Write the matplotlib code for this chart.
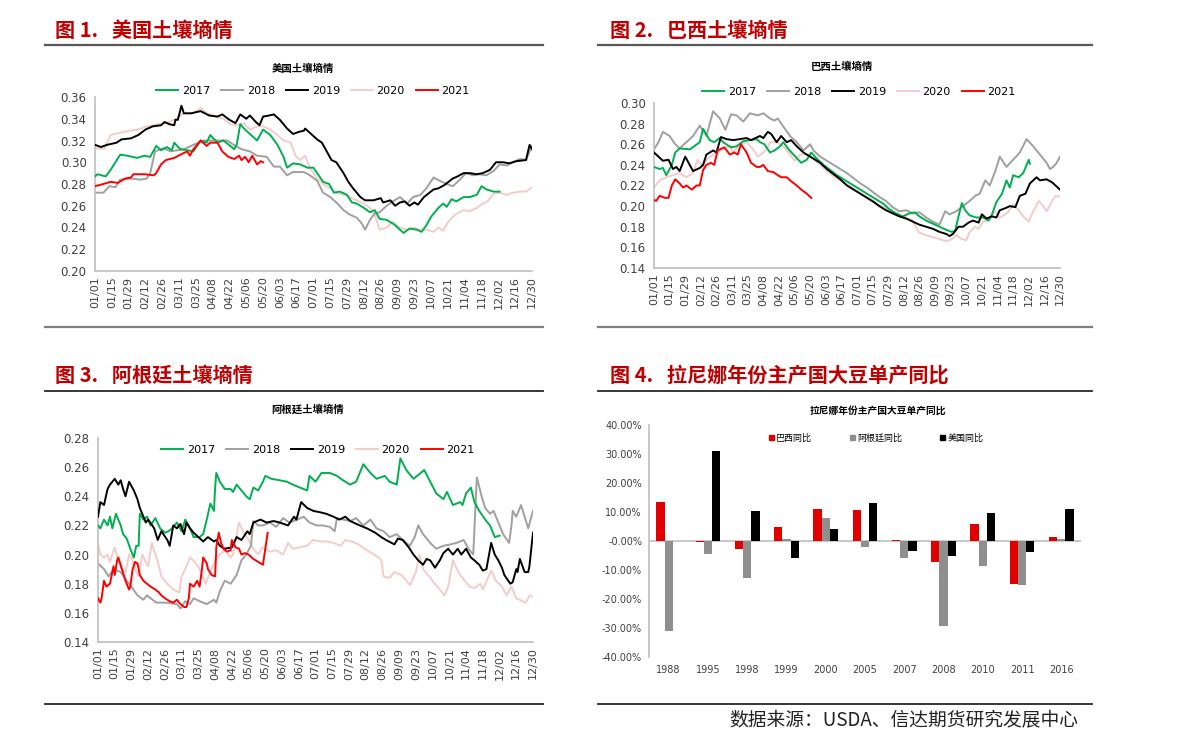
import numpy as np
import matplotlib
matplotlib.use("Agg")
import matplotlib.pyplot as plt
from matplotlib.lines import Line2D
from matplotlib.patches import Patch

plt.rcParams['font.family'] = ['Noto Sans CJK SC', 'DejaVu Sans']
plt.rcParams['axes.unicode_minus'] = False

W, H = 1191, 751

# ---- x axis labels (day of year, every 14 days) ----
date_labels = ["01/01", "01/15", "01/29", "02/12", "02/26", "03/11", "03/25", "04/08", "04/22",
               "05/06", "05/20", "06/03", "06/17", "07/01", "07/15", "07/29", "08/12", "08/26",
               "09/09", "09/23", "10/07", "10/21", "11/04", "11/18", "12/02", "12/16", "12/30"]
years = ["2017", "2018", "2019", "2020", "2021"]

# ---- 图1 美国 ----
us_2017_d = [0, 2, 9, 13, 17, 21, 27, 35, 41, 46, 51, 55, 60, 64, 66, 71, 77, 82, 88, 93, 96, 102, 107, 116, 118,
             121, 125, 131, 135, 140, 146, 152, 157, 160, 165, 171, 177, 182, 185, 190, 195, 199, 204, 210, 214,
             218, 224, 229, 233, 237, 243, 249, 254, 257, 262, 268, 272, 276, 280, 286, 290, 293, 297, 301, 307,
             312, 318, 322, 326, 332, 337]
us_2017_v = [0.287, 0.289, 0.287, 0.293, 0.300, 0.307, 0.306, 0.304, 0.306, 0.305, 0.315, 0.311, 0.314, 0.311,
             0.318, 0.312, 0.311, 0.310, 0.320, 0.318, 0.325, 0.318, 0.320, 0.312, 0.316, 0.335, 0.330, 0.324,
             0.320, 0.330, 0.325, 0.316, 0.305, 0.295, 0.299, 0.298, 0.295, 0.295, 0.290, 0.282, 0.280, 0.272,
             0.273, 0.270, 0.263, 0.262, 0.258, 0.254, 0.256, 0.248, 0.247, 0.243, 0.238, 0.235, 0.239, 0.238,
             0.236, 0.242, 0.250, 0.258, 0.262, 0.259, 0.266, 0.264, 0.268, 0.268, 0.270, 0.278, 0.275, 0.273, 0.273]
us_2018_d = [0, 7, 12, 17, 21, 30, 38, 43, 46, 50, 57, 63, 74, 82, 91, 102, 110, 117, 122, 129, 135, 143, 149, 154,
             160, 165, 174, 179, 185, 190, 196, 202, 207, 212, 218, 222, 225, 229, 233, 237, 243, 248, 254, 260,
             265, 271, 276, 282, 287, 293, 298, 304, 309, 315, 320, 326, 332, 337, 343, 348, 354, 359, 364]
us_2018_v = [0.272, 0.272, 0.278, 0.277, 0.284, 0.285, 0.284, 0.285, 0.290, 0.310, 0.313, 0.310, 0.312, 0.316,
             0.320, 0.320, 0.320, 0.315, 0.312, 0.310, 0.306, 0.305, 0.296, 0.296, 0.288, 0.291, 0.291, 0.288,
             0.283, 0.272, 0.268, 0.262, 0.256, 0.252, 0.249, 0.244, 0.238, 0.247, 0.253, 0.254, 0.260, 0.264,
             0.268, 0.262, 0.268, 0.270, 0.276, 0.286, 0.283, 0.280, 0.278, 0.284, 0.290, 0.288, 0.289, 0.288,
             0.292, 0.298, 0.297, 0.300, 0.303, 0.302, 0.315]
us_2019_d = [0, 5, 10, 18, 22, 30, 36, 42, 48, 55, 58, 62, 66, 67, 69, 72, 74, 80, 88, 95, 102, 106, 112, 117, 121,
             126, 129, 134, 137, 140, 145, 149, 154, 160, 165, 170, 174, 175, 180, 185, 189, 193, 197, 201, 207,
             211, 215, 221, 225, 232, 238, 240, 246, 250, 254, 258, 262, 266, 269, 274, 282, 286, 291, 298, 302,
             307, 312, 318, 323, 329, 334, 340, 345, 351, 359, 362, 364]
us_2019_v = [0.316, 0.314, 0.316, 0.318, 0.321, 0.322, 0.325, 0.330, 0.333, 0.334, 0.337, 0.335, 0.334, 0.339,
             0.339, 0.352, 0.345, 0.345, 0.347, 0.343, 0.342, 0.344, 0.339, 0.336, 0.344, 0.340, 0.343, 0.337,
             0.334, 0.342, 0.343, 0.344, 0.339, 0.331, 0.326, 0.328, 0.329, 0.331, 0.326, 0.321, 0.318, 0.310,
             0.302, 0.300, 0.290, 0.282, 0.276, 0.268, 0.265, 0.265, 0.267, 0.263, 0.265, 0.260, 0.263, 0.264,
             0.260, 0.263, 0.261, 0.268, 0.275, 0.276, 0.279, 0.285, 0.287, 0.290, 0.290, 0.289, 0.290, 0.293,
             0.300, 0.300, 0.299, 0.301, 0.302, 0.316, 0.312]
us_2020_d = [0, 7.5, 13, 24, 35, 43.5, 52, 60, 67, 74, 82, 88, 93, 99, 107, 113, 118, 124, 129, 135, 140, 146, 152,
             157, 163, 167, 171, 175, 179, 185, 190, 196, 201, 207, 212, 218, 224, 229, 233, 237, 243, 248, 254,
             260, 265, 271, 276, 282, 286, 290, 294, 300, 307, 312, 318, 323, 327, 332, 337, 343, 348, 354, 359, 364]
us_2020_v = [0.313, 0.312, 0.325, 0.328, 0.330, 0.333, 0.335, 0.336, 0.340, 0.345, 0.345, 0.350, 0.345, 0.343,
             0.340, 0.335, 0.334, 0.336, 0.330, 0.333, 0.333, 0.330, 0.325, 0.320, 0.318, 0.306, 0.302, 0.306,
             0.295, 0.285, 0.280, 0.276, 0.272, 0.270, 0.268, 0.265, 0.262, 0.258, 0.252, 0.238, 0.240, 0.245,
             0.240, 0.238, 0.240, 0.238, 0.238, 0.236, 0.240, 0.237, 0.245, 0.252, 0.256, 0.255, 0.258, 0.262,
             0.264, 0.271, 0.272, 0.270, 0.272, 0.273, 0.273, 0.277]
us_2021_d = [0, 7, 13, 19, 25, 30, 32, 41, 49, 51, 55, 59, 66, 73, 77, 79, 82, 85, 88, 93, 96, 102, 106, 111, 116,
             120, 122, 125, 128, 131, 135, 138, 140]
us_2021_v = [0.278, 0.280, 0.282, 0.281, 0.285, 0.286, 0.289, 0.289, 0.288, 0.290, 0.298, 0.302, 0.304, 0.308,
             0.310, 0.306, 0.312, 0.316, 0.320, 0.315, 0.318, 0.318, 0.310, 0.305, 0.303, 0.306, 0.302, 0.305,
             0.300, 0.306, 0.298, 0.301, 0.300]

# ---- 图2 巴西 ----
br_2017_d = [0, 5, 8, 11, 16, 19, 23, 32, 36, 41, 44, 50, 54, 59, 62, 69, 74, 80, 86, 92, 95, 99, 104, 108, 113,
             116, 120, 125, 132, 137, 141, 146, 152, 158, 164, 170, 176, 182, 188, 194, 200, 206, 211, 217, 223,
             229, 234, 238, 244, 250, 256, 262, 267, 270, 273, 276, 279, 283, 289, 295, 300, 303, 307, 312, 316,
             319, 322, 327, 331, 336, 337]
br_2017_v = [0.238, 0.236, 0.237, 0.230, 0.240, 0.252, 0.256, 0.255, 0.258, 0.262, 0.275, 0.264, 0.262, 0.266,
             0.262, 0.257, 0.258, 0.263, 0.264, 0.265, 0.262, 0.260, 0.252, 0.254, 0.258, 0.262, 0.256, 0.250,
             0.242, 0.245, 0.252, 0.246, 0.240, 0.235, 0.230, 0.226, 0.222, 0.218, 0.214, 0.210, 0.206, 0.202,
             0.197, 0.193, 0.190, 0.193, 0.194, 0.190, 0.186, 0.183, 0.180, 0.177, 0.175, 0.176, 0.190, 0.203,
             0.196, 0.191, 0.189, 0.189, 0.186, 0.192, 0.204, 0.212, 0.225, 0.218, 0.230, 0.228, 0.232, 0.245, 0.241]
br_2018_d = [0, 4, 8, 14, 19, 23, 29, 35, 41, 47, 53, 59, 64, 69, 74, 80, 86, 93, 98, 104, 108, 111, 116, 122, 128,
             134, 140, 143, 149, 155, 161, 167, 173, 179, 185, 191, 197, 202, 208, 214, 220, 226, 232, 238, 244,
             250, 256, 261, 265, 271, 277, 283, 288, 292, 297, 301, 306, 310, 316, 322, 328, 334, 340, 346, 352,
             355, 358, 361, 364]
br_2018_v = [0.255, 0.262, 0.272, 0.268, 0.260, 0.256, 0.262, 0.268, 0.278, 0.268, 0.292, 0.285, 0.274, 0.289,
             0.288, 0.282, 0.290, 0.288, 0.290, 0.285, 0.283, 0.285, 0.277, 0.268, 0.262, 0.254, 0.260, 0.254,
             0.248, 0.244, 0.240, 0.236, 0.232, 0.227, 0.222, 0.218, 0.213, 0.209, 0.205, 0.199, 0.195, 0.196,
             0.193, 0.194, 0.189, 0.185, 0.182, 0.195, 0.192, 0.195, 0.200, 0.205, 0.210, 0.212, 0.225, 0.220,
             0.234, 0.248, 0.238, 0.245, 0.252, 0.265, 0.258, 0.250, 0.242, 0.236, 0.238, 0.242, 0.248]
br_2019_d = [0, 4, 8, 13, 17, 20, 23, 28, 32, 35, 41, 44, 47, 53, 56, 60, 65, 71, 77, 83, 87, 95, 98, 102, 105,
             110, 114, 119, 123, 128, 134, 137, 143, 149, 155, 161, 167, 173, 179, 185, 191, 197, 202, 208, 214,
             220, 226, 232, 238, 244, 250, 256, 262, 265, 268, 273, 277, 282, 286, 291, 294, 298, 303, 307, 310,
             315, 319, 324, 328, 333, 337, 343, 346, 352, 357, 360, 364]
br_2019_v = [0.252, 0.248, 0.244, 0.245, 0.236, 0.238, 0.234, 0.248, 0.240, 0.234, 0.237, 0.240, 0.250, 0.254,
             0.252, 0.267, 0.265, 0.264, 0.265, 0.266, 0.264, 0.268, 0.266, 0.272, 0.270, 0.262, 0.268, 0.262,
             0.264, 0.258, 0.252, 0.250, 0.246, 0.242, 0.236, 0.231, 0.226, 0.220, 0.216, 0.212, 0.208, 0.204,
             0.200, 0.196, 0.193, 0.190, 0.188, 0.185, 0.182, 0.180, 0.178, 0.175, 0.173, 0.171, 0.173, 0.180,
             0.180, 0.184, 0.186, 0.184, 0.192, 0.188, 0.190, 0.189, 0.196, 0.198, 0.200, 0.199, 0.210, 0.212,
             0.222, 0.228, 0.225, 0.226, 0.223, 0.220, 0.216]
br_2020_d = [0, 5, 11, 17, 23, 29, 35, 39, 44, 47, 53, 57, 62, 68, 71, 77, 83, 89, 93, 98, 101, 104, 110, 116, 122,
             126, 131, 137, 143, 149, 155, 161, 167, 173, 179, 185, 191, 197, 202, 208, 214, 220, 226, 232, 237,
             243, 250, 256, 262, 267, 271, 276, 280, 283, 288, 291, 295, 300, 306, 310, 315, 318, 322, 327, 331,
             336, 340, 345, 349, 352, 357, 360, 364]
br_2020_v = [0.218, 0.225, 0.228, 0.230, 0.232, 0.228, 0.232, 0.245, 0.238, 0.245, 0.250, 0.252, 0.256, 0.258,
             0.252, 0.260, 0.262, 0.255, 0.248, 0.252, 0.255, 0.262, 0.262, 0.258, 0.250, 0.244, 0.250, 0.250,
             0.246, 0.240, 0.234, 0.229, 0.225, 0.221, 0.217, 0.213, 0.209, 0.205, 0.201, 0.198, 0.194, 0.191,
             0.189, 0.186, 0.175, 0.172, 0.170, 0.168, 0.166, 0.168, 0.172, 0.168, 0.167, 0.175, 0.180, 0.178,
             0.185, 0.186, 0.195, 0.189, 0.192, 0.195, 0.202, 0.196, 0.190, 0.185, 0.195, 0.205, 0.200, 0.195,
             0.205, 0.210, 0.209]
br_2021_d = [0, 2, 5, 10, 13, 16, 19, 23, 26, 29, 34, 38, 41, 44, 47, 51, 54, 57, 63, 68, 72, 75, 78, 83, 87,
             92, 95, 98, 102, 107, 111, 114, 119, 123, 128, 132, 137, 141]
br_2021_v = [0.206, 0.205, 0.210, 0.208, 0.208, 0.220, 0.226, 0.222, 0.218, 0.220, 0.216, 0.220, 0.220, 0.235,
             0.240, 0.242, 0.240, 0.254, 0.257, 0.250, 0.252, 0.250, 0.260, 0.252, 0.242, 0.238, 0.238, 0.240,
             0.234, 0.233, 0.230, 0.228, 0.228, 0.224, 0.220, 0.216, 0.212, 0.208]

# ---- 图3 阿根廷 ----
ar_2017_d = [0, 2, 5, 8, 10, 12, 15, 19, 21, 24, 27, 30, 32, 34, 35, 38, 41, 44, 48, 52, 56, 59, 62, 66, 70, 73,
             77, 80, 85, 88, 91, 94, 97, 98, 99, 102, 106, 111, 113, 116, 120, 124, 127, 130, 134, 138, 140, 145,
             152, 158, 163, 169, 175, 177, 182, 187, 194, 200, 205, 211, 216, 222, 228, 233, 240, 244, 250, 253,
             258, 264, 273, 278, 283, 289, 292, 297, 303, 305, 308, 312, 315, 319, 324, 328, 332, 336]
ar_2017_v = [0.220, 0.218, 0.224, 0.220, 0.226, 0.218, 0.228, 0.220, 0.214, 0.211, 0.204, 0.198, 0.206, 0.206,
             0.228, 0.224, 0.226, 0.220, 0.225, 0.218, 0.215, 0.216, 0.218, 0.222, 0.216, 0.224, 0.218, 0.212,
             0.212, 0.214, 0.224, 0.235, 0.230, 0.246, 0.256, 0.250, 0.245, 0.245, 0.243, 0.248, 0.244, 0.240,
             0.238, 0.246, 0.244, 0.250, 0.254, 0.252, 0.251, 0.250, 0.248, 0.246, 0.244, 0.254, 0.250, 0.256,
             0.256, 0.254, 0.251, 0.248, 0.250, 0.262, 0.256, 0.252, 0.254, 0.250, 0.248, 0.266, 0.258, 0.252,
             0.258, 0.250, 0.242, 0.238, 0.243, 0.234, 0.236, 0.234, 0.242, 0.246, 0.236, 0.230, 0.224, 0.220,
             0.212, 0.213]
ar_2018_d = [0, 5, 9, 13, 19, 24, 28, 33, 38, 41, 44, 49, 58, 66, 69, 73, 77, 80, 85, 91, 97, 99, 102, 106, 111,
             116, 120, 124, 128, 130, 134, 138, 144, 149, 155, 160, 167, 172, 177, 183, 188, 194, 198, 200, 205,
             211, 216, 222, 228, 233, 239, 244, 250, 255, 261, 265, 268, 272, 278, 283, 289, 295, 300, 306, 310,
             314, 317, 321, 324, 328, 331, 335, 339, 344, 346, 347, 350, 354, 357, 360, 364]
ar_2018_v = [0.194, 0.190, 0.185, 0.190, 0.188, 0.182, 0.178, 0.172, 0.169, 0.172, 0.170, 0.167, 0.167, 0.166,
             0.163, 0.168, 0.166, 0.170, 0.168, 0.166, 0.169, 0.167, 0.175, 0.182, 0.180, 0.186, 0.196, 0.200,
             0.206, 0.223, 0.220, 0.220, 0.222, 0.219, 0.225, 0.222, 0.224, 0.226, 0.222, 0.220, 0.220, 0.219,
             0.216, 0.225, 0.224, 0.223, 0.225, 0.220, 0.224, 0.218, 0.216, 0.212, 0.214, 0.210, 0.206, 0.212,
             0.220, 0.214, 0.208, 0.204, 0.206, 0.207, 0.208, 0.210, 0.204, 0.200, 0.253, 0.240, 0.232, 0.228,
             0.230, 0.222, 0.214, 0.208, 0.220, 0.230, 0.226, 0.234, 0.226, 0.218, 0.230]
ar_2019_d = [0, 2, 5, 8, 10, 14, 17, 19, 21, 23, 26, 30, 33, 35, 40, 42, 47, 50, 53, 58, 60, 63, 66, 69, 72, 74,
             77, 80, 84, 88, 92, 97, 99, 102, 106, 112, 116, 120, 125, 127, 130, 136, 141, 147, 152, 159, 164,
             166, 170, 175, 180, 186, 191, 197, 202, 207, 211, 219, 225, 232, 237, 241, 248, 251, 255, 260, 264,
             268, 272, 275, 278, 282, 286, 289, 293, 297, 301, 304, 308, 312, 315, 319, 322, 325, 329, 332, 335,
             338, 340, 345, 347, 350, 351, 353, 357, 360, 361, 364]
ar_2019_v = [0.226, 0.236, 0.234, 0.245, 0.248, 0.252, 0.248, 0.251, 0.245, 0.240, 0.250, 0.244, 0.238, 0.232,
             0.222, 0.224, 0.218, 0.210, 0.216, 0.210, 0.206, 0.220, 0.218, 0.221, 0.214, 0.222, 0.218, 0.215,
             0.212, 0.209, 0.212, 0.209, 0.210, 0.206, 0.204, 0.205, 0.212, 0.210, 0.216, 0.214, 0.222, 0.224,
             0.222, 0.223, 0.222, 0.220, 0.226, 0.224, 0.236, 0.232, 0.230, 0.229, 0.228, 0.226, 0.224, 0.226,
             0.223, 0.220, 0.218, 0.215, 0.212, 0.210, 0.207, 0.211, 0.210, 0.205, 0.200, 0.196, 0.193, 0.197,
             0.196, 0.191, 0.196, 0.201, 0.204, 0.200, 0.204, 0.200, 0.204, 0.198, 0.196, 0.193, 0.189, 0.190,
             0.208, 0.200, 0.196, 0.191, 0.186, 0.180, 0.181, 0.190, 0.188, 0.197, 0.188, 0.188, 0.192, 0.215]
ar_2020_d = [0, 2, 5, 8, 10, 14, 17, 20, 23, 26, 28, 31, 34, 37, 40, 42, 45, 48, 51, 53, 58, 63, 68, 70, 73, 77,
             81, 85, 90, 94, 98, 102, 106, 111, 113, 118, 122, 126, 130, 134, 138, 144, 149, 155, 159, 163, 169,
             175, 180, 186, 191, 197, 203, 207, 212, 218, 223, 229, 235, 237, 239, 244, 248, 254, 258, 261, 266,
             269, 272, 276, 280, 286, 290, 293, 297, 299, 303, 307, 311, 315, 320, 322, 329, 333, 338, 342, 346,
             350, 358, 361, 364]
ar_2020_v = [0.208, 0.200, 0.198, 0.200, 0.195, 0.205, 0.196, 0.190, 0.188, 0.200, 0.198, 0.190, 0.185, 0.200,
             0.195, 0.192, 0.208, 0.200, 0.192, 0.185, 0.180, 0.176, 0.174, 0.185, 0.190, 0.198, 0.195, 0.190,
             0.180, 0.188, 0.196, 0.200, 0.203, 0.198, 0.200, 0.222, 0.215, 0.210, 0.204, 0.200, 0.205, 0.202,
             0.203, 0.200, 0.208, 0.204, 0.205, 0.206, 0.210, 0.209, 0.209, 0.208, 0.206, 0.210, 0.209, 0.207,
             0.204, 0.201, 0.198, 0.196, 0.185, 0.184, 0.188, 0.186, 0.182, 0.179, 0.188, 0.200, 0.190, 0.186,
             0.182, 0.176, 0.172, 0.178, 0.196, 0.192, 0.186, 0.182, 0.178, 0.177, 0.180, 0.176, 0.189, 0.182,
             0.178, 0.172, 0.178, 0.170, 0.167, 0.172, 0.171]
ar_2021_d = [0, 2, 3, 5, 7, 10, 13, 14, 16, 17, 20, 23, 26, 27, 29, 31, 33, 35, 38, 41, 44, 48, 51, 53, 56, 60,
             63, 66, 69, 72, 74, 76, 77, 80, 83, 85, 87, 88, 91, 92, 95, 98, 99, 101, 103, 105, 108, 111, 112,
             115, 118, 120, 123, 126, 130, 134, 138, 142]
ar_2021_v = [0.170, 0.167, 0.170, 0.182, 0.178, 0.180, 0.192, 0.186, 0.196, 0.198, 0.190, 0.182, 0.176, 0.178,
             0.190, 0.195, 0.194, 0.186, 0.182, 0.180, 0.178, 0.176, 0.174, 0.172, 0.170, 0.168, 0.167, 0.169,
             0.166, 0.164, 0.164, 0.170, 0.180, 0.178, 0.182, 0.178, 0.190, 0.198, 0.194, 0.190, 0.186, 0.185,
             0.205, 0.215, 0.208, 0.204, 0.202, 0.203, 0.210, 0.205, 0.204, 0.200, 0.201, 0.200, 0.197, 0.195,
             0.193, 0.215]

# ---- 图4 拉尼娜年份单产同比 ----
nina_years = ["1988", "1995", "1998", "1999", "2000", "2005", "2007", "2008", "2010", "2011", "2016"]
brazil_yoy = [0.136, -0.005, -0.029, 0.049, 0.110, 0.108, 0.003, -0.072, 0.058, -0.147, 0.013]
argentina_yoy = [-0.310, -0.046, -0.128, 0.008, 0.081, -0.019, -0.058, -0.294, -0.086, -0.151, 0.006]
usa_yoy = [0.0, 0.310, 0.102, -0.060, 0.041, 0.131, -0.034, -0.050, 0.095, -0.037, 0.112]

colors = {"2017": "#00b050", "2018": "#a0a0a0", "2019": "#000000", "2020": "#f4cccc", "2021": "#ff0000"}
zorders = {"2017": 3, "2018": 2, "2019": 4, "2020": 1, "2021": 5}
tick_font = ['Liberation Sans Narrow', 'DejaVu Sans']
RED_HEAD = "#c00000"


def box(x0, y0, x1, y1):
    # pixel box -> figure fraction rect
    return [x0 / W, 1 - y1 / H, (x1 - x0) / W, (y1 - y0) / H]


def fx(x):
    return x / W


def fy(y):
    return 1 - y / H


def style_axes(ax):
    for s in ["top", "right"]:
        ax.spines[s].set_visible(False)
    for s in ["left", "bottom"]:
        ax.spines[s].set_color("#bfbfbf")
        ax.spines[s].set_linewidth(1.2)
    ax.tick_params(length=0, colors="#404040")


def line_panel(fig, rect, data, ylo, yhi, title, title_xy, legend_xy):
    ax = fig.add_axes(rect)
    for yr, d, v in data:
        ax.plot(d, v, color=colors[yr], lw=1.4, zorder=zorders[yr], label=yr)
    ax.set_xlim(0, 364)
    ax.set_ylim(ylo, yhi)
    yt = np.arange(ylo, yhi + 0.001, 0.02)
    ax.set_yticks(yt)
    ax.set_yticklabels(["%.2f" % t for t in yt], family=tick_font, fontsize=8.5)
    ax.set_xticks(np.arange(0, 365, 14))
    ax.set_xticklabels(date_labels, rotation=90, family=tick_font, fontsize=8)
    style_axes(ax)
    ax.tick_params(axis="y", pad=6)
    ax.tick_params(axis="x", pad=4)
    fig.text(fx(title_xy[0]), fy(title_xy[1]), title, ha="center", va="center",
             fontsize=7.5, fontweight="bold")
    handles, labels = ax.get_legend_handles_labels()
    ax.legend(handles, labels, loc="center", ncol=5, frameon=False,
              bbox_to_anchor=(fx(legend_xy[0]), fy(legend_xy[1])), bbox_transform=fig.transFigure,
              prop={"family": tick_font, "size": 8}, handlelength=2.0, columnspacing=1.0,
              handletextpad=0.3)
    return ax


def hline(fig, x0, x1, y, color, lw):
    fig.add_artist(Line2D([fx(x0), fx(x1)], [fy(y), fy(y)], color=color, lw=lw,
                          transform=fig.transFigure))


def main():
    fig = plt.figure(figsize=(W / 100, H / 100), dpi=100)

    # headers
    heads = [(55, 30, "图 1.   美国土壤墒情"), (610, 30, "图 2.   巴西土壤墒情"),
             (55, 375, "图 3.   阿根廷土壤墒情"), (610, 375, "图 4.   拉尼娜年份主产国大豆单产同比")]
    for hx, hy, txt in heads:
        fig.text(fx(hx), fy(hy), txt, color=RED_HEAD, fontsize=14.5, fontweight="bold", va="center")
    for (a, b) in [(45, 543), (598, 1092)]:
        hline(fig, a, b, 45, "#595959", 1.6)
        hline(fig, a, b, 327, "#7f7f7f", 1.6)
        hline(fig, a, b, 391, "#262626", 1.3)
        hline(fig, a, b, 704, "#262626", 1.3)

    us = [("2017", us_2017_d, us_2017_v), ("2018", us_2018_d, us_2018_v), ("2019", us_2019_d, us_2019_v),
          ("2020", us_2020_d, us_2020_v), ("2021", us_2021_d, us_2021_v)]
    br = [("2017", br_2017_d, br_2017_v), ("2018", br_2018_d, br_2018_v), ("2019", br_2019_d, br_2019_v),
          ("2020", br_2020_d, br_2020_v), ("2021", br_2021_d, br_2021_v)]
    ar = [("2017", ar_2017_d, ar_2017_v), ("2018", ar_2018_d, ar_2018_v), ("2019", ar_2019_d, ar_2019_v),
          ("2020", ar_2020_d, ar_2020_v), ("2021", ar_2021_d, ar_2021_v)]

    line_panel(fig, box(95, 97, 532, 271), us, 0.20, 0.36, "美国土壤墒情", (303, 69), (313, 91))
    line_panel(fig, box(654, 103, 1060, 268), br, 0.14, 0.30, "巴西土壤墒情", (842, 67), (859, 92))
    line_panel(fig, box(98, 438, 533, 642), ar, 0.14, 0.28, "阿根廷土壤墒情", (308, 409), (318, 450))

    # bar panel
    ax = fig.add_axes(box(649, 425, 1081, 657))
    x = np.arange(len(nina_years))
    w = 0.21
    ax.bar(x - w, brazil_yoy, w, color="#e00000", label="巴西同比", zorder=2)
    ax.bar(x, argentina_yoy, w, color="#8f8f8f", label="阿根廷同比", zorder=2)
    ax.bar(x + w, usa_yoy, w, color="#000000", label="美国同比", zorder=2)
    ax.axhline(0, color="#bfbfbf", lw=1.2, zorder=1)
    ax.set_xlim(-0.5, len(nina_years) - 0.5)
    ax.set_ylim(-0.4, 0.4)
    yt = np.arange(-0.4, 0.401, 0.1)
    ax.set_yticks(yt)
    ax.set_yticklabels(["%.2f%%" % (t * 100) for t in yt], family=tick_font, fontsize=7)
    ax.set_xticks(x)
    ax.set_xticklabels(nina_years, family=tick_font, fontsize=7)
    style_axes(ax)
    ax.spines["bottom"].set_visible(False)
    ax.tick_params(axis="x", pad=6)
    ax.tick_params(axis="y", pad=5)
    fig.text(fx(878), fy(411), "拉尼娜年份主产国大豆单产同比", ha="center", va="center",
             fontsize=7, fontweight="bold")
    handles = [Patch(color="#e00000"), Patch(color="#8f8f8f"), Patch(color="#000000")]
    ax.legend(handles, ["巴西同比", "阿根廷同比", "美国同比"], loc="center", ncol=3, frameon=False,
              bbox_to_anchor=(fx(876), fy(438)), bbox_transform=fig.transFigure,
              fontsize=6.5, handlelength=0.6, handleheight=0.6, handletextpad=0.2, columnspacing=4.2)

    fig.text(fx(1078), fy(720), "数据来源：USDA、信达期货研究发展中心", ha="right", va="center",
             fontsize=13.5, color="#222222")

    fig.savefig("out.png", dpi=100, facecolor="white")


main()
